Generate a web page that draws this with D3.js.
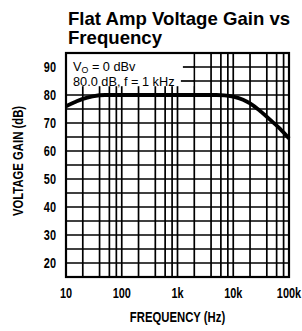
<!DOCTYPE html>
<html>
<head>
<meta charset="utf-8">
<script src="https://cdn.jsdelivr.net/npm/d3@7"></script>
<style>
  body { margin: 0; background: #fff; }
  .tick-label { font-family: "Liberation Sans", Arial, sans-serif; font-weight: bold; font-size: 14px; }
  .axis-title { font-family: "Liberation Sans", Arial, sans-serif; font-weight: bold; font-size: 14.5px; }
  .title { font-family: "Liberation Sans", Arial, sans-serif; font-weight: bold; font-size: 18.6px; }
  .note { font-family: "Liberation Sans", Arial, sans-serif; font-size: 13px; }
</style>
</head>
<body>
<div id="chart"></div>
<script>
// curve
const freq = [10, 15, 20, 30, 50, 100, 1000, 5000, 7000, 10000, 15000, 20000, 30000, 50000, 70000, 100000];
const gain = [76, 77.6, 78.6, 79.5, 80, 80, 80, 80, 79.9, 79.4, 78.3, 77, 74.4, 70.5, 67.8, 64.5];

const yTicks = [20, 30, 40, 50, 60, 70, 80, 90];
const yGrid = [20, 25, 30, 35, 40, 45, 50, 55, 60, 65, 70, 75, 80, 85, 90];
const xTicks = [10, 100, 1000, 10000, 100000];
const xTickLabels = ["10", "100", "1k", "10k", "100k"];
const xGridMult = [2, 4, 6, 8];

const W = 302, H = 331;
const margin = { top: 53, right: 13, bottom: 54, left: 66 };
const narrow = 0.78; // squeeze text like a condensed face

const svg = d3.select("#chart").append("svg")
  .attr("width", W)
  .attr("height", H);

const x = d3.scaleLog().domain([10, 100000]).range([margin.left, W - margin.right]);
const y = d3.scaleLinear().domain([15, 95]).range([H - margin.bottom, margin.top]);

// vertical grid
const xGrid = [];
xTicks.forEach(d => {
  xGrid.push(d);
  if (d < 100000) xGridMult.forEach(m => xGrid.push(d * m));
});

const grid = svg.append("g").attr("stroke", "#000").attr("stroke-width", 1.7);
grid.selectAll(".vx")
  .data(xGrid)
  .join("line")
  .attr("x1", d => x(d)).attr("x2", d => x(d))
  .attr("y1", y(95)).attr("y2", y(15));
grid.selectAll(".hy")
  .data(yGrid)
  .join("line")
  .attr("x1", x(10)).attr("x2", x(100000))
  .attr("y1", d => y(d)).attr("y2", d => y(d));

// note box covers the grid in the top left corner
const note = svg.append("g");
note.append("rect")
  .attr("x", x(10) + 1).attr("y", y(95) + 1)
  .attr("width", x(2000) - x(10) - 2).attr("height", y(83.5) - y(95))
  .attr("fill", "#fff");
note.append("text")
  .attr("class", "note")
  .attr("transform", `translate(${x(10) + 7},${y(90) + 4}) scale(0.98,1)`)
  .html("V<tspan font-size='9' dy='1.5'>O</tspan><tspan dy='-1.5'> = 0 dBv</tspan>");
note.append("text")
  .attr("class", "note")
  .attr("transform", `translate(${x(10) + 7},${y(85) + 4.5}) scale(0.98,1)`)
  .text("80.0 dB, f = 1 kHz");
// gridlines continue after the note text
svg.append("g")
  .attr("stroke", "#000").attr("stroke-width", 1.7)
  .selectAll("line")
  .data([[90, 1250], [85, 1150]])
  .join("line")
  .attr("x1", d => x(d[1])).attr("x2", x(2000))
  .attr("y1", d => y(d[0])).attr("y2", d => y(d[0]));

// frame
svg.append("rect")
  .attr("x", x(10)).attr("y", y(95))
  .attr("width", x(100000) - x(10)).attr("height", y(15) - y(95))
  .attr("fill", "none").attr("stroke", "#000").attr("stroke-width", 2.2);

// curve
const line = d3.line()
  .x((d, i) => x(freq[i]))
  .y(d => y(d))
  .curve(d3.curveMonotoneX);
svg.append("path")
  .datum(gain)
  .attr("d", line)
  .attr("fill", "none")
  .attr("stroke", "#000")
  .attr("stroke-width", 3.8);

// y tick labels
svg.selectAll(".ylab")
  .data(yTicks)
  .join("text")
  .attr("class", "tick-label")
  .attr("transform", d => `translate(${margin.left - 10},${y(d) + 5}) scale(${narrow},1)`)
  .attr("text-anchor", "end")
  .text(d => d);

// x tick labels
svg.selectAll(".xlab")
  .data(xTicks)
  .join("text")
  .attr("class", "tick-label")
  .attr("transform", d => `translate(${x(d)},298) scale(${narrow},1)`)
  .attr("text-anchor", "middle")
  .text((d, i) => xTickLabels[i]);

svg.append("text")
  .attr("class", "axis-title")
  .attr("transform", `translate(${(x(10) + x(100000)) / 2},322) scale(${narrow},1)`)
  .attr("text-anchor", "middle")
  .text("FREQUENCY (Hz)");

svg.append("text")
  .attr("class", "axis-title")
  .attr("transform", `translate(23,${(y(15) + y(95)) / 2 - 4}) rotate(-90) scale(${narrow},1)`)
  .attr("text-anchor", "middle")
  .text("VOLTAGE GAIN (dB)");

// title
svg.append("text")
  .attr("class", "title")
  .attr("x", 68).attr("y", 25)
  .text("Flat Amp Voltage Gain vs");
svg.append("text")
  .attr("class", "title")
  .attr("x", 68).attr("y", 44)
  .text("Frequency");
</script>
</body>
</html>
